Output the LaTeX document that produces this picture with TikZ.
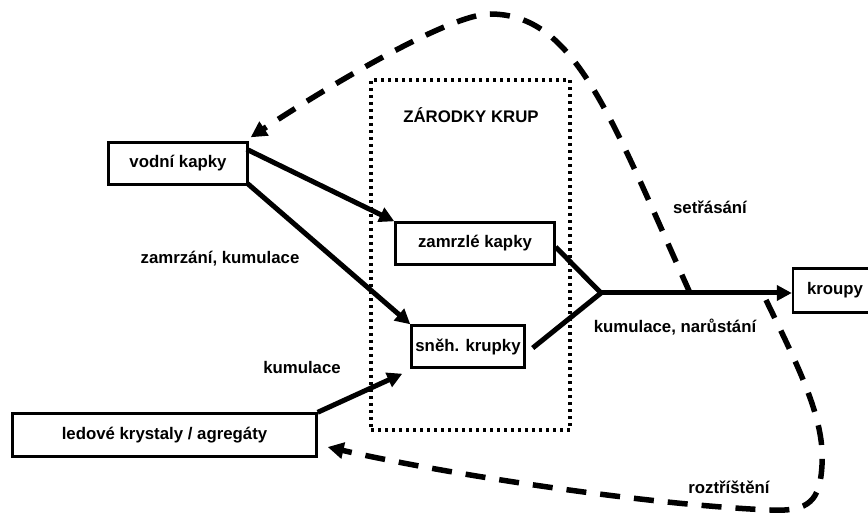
\documentclass[tikz,border=0pt]{standalone}
\usepackage{fontspec}
\setmainfont{Liberation Sans}
\usetikzlibrary{arrows.meta,calc}
\begin{document}
\begin{tikzpicture}[x=1pt,y=-1pt,
  txt/.style={font=\fontsize{16.8}{19}\selectfont\bfseries},
  box/.style={txt,draw,line width=2.4pt,inner sep=0pt},
  lbl/.style={txt,inner sep=0pt},
  arr/.style={line width=5pt,-{Triangle[length=15pt,width=15pt]}},
  seg/.style={line width=5pt},
  dcurve/.style={line width=5.5pt,dash pattern=on 20pt off 14pt,-{Triangle[length=16pt,width=16pt]}},
  dotbox/.style={draw,line width=3.5pt,dash pattern=on 3pt off 4pt,inner sep=0pt},
  ]
\useasboundingbox (0,0) rectangle (868,513);
\clip (0,0) rectangle (868,513);

% region of hail embryos
\node[dotbox,minimum width=199pt,minimum height=350pt] (zbox) at (470.5,255) {};
\node[lbl] (zlabel) at (471,115) {ZÁRODKY KRUP};

% boxes
\node[box,minimum width=139pt,minimum height=42pt] (vodni) at (178,163.5) {vodní kapky};
\node[box,minimum width=159pt,minimum height=42pt] (zamrzle) at (475,243.5) {zamrzlé kapky};
\node[box,minimum width=113pt,minimum height=42pt] (sneh) at (468,346.5) {sněh. krupky};
\node[box,minimum width=304pt,minimum height=43pt] (ledove) at (164.5,435) {ledové krystaly / agregáty};
\node[box,minimum width=84pt,minimum height=44pt] (kroupy) at (835,290.5) {kroupy};

% arrows
\coordinate (J) at (601,293);
\draw[arr] ($(vodni.north east)+(-2,8)$) -- (zamrzle.north west);
\draw[arr] ($(vodni.south east)+(-1,-2)$) -- (sneh.north west);
\draw[arr] (ledove.north east) -- ($(sneh.south west)+(-8,5)$);
\draw[seg] ($(zamrzle.east)+(0,3.5)$) -- (J);
\draw[seg] ($(sneh.east)+(7,1.5)$) -- (J);
\draw[arr] (J) -- (kroupy.west |- J);

% dashed recirculation curves
\coordinate (s1) at (690,293);
\draw[dcurve] (s1) .. controls (610,115) and (575,14) .. (490,14)
  .. controls (450,14) and (330,85) .. ($(vodni.north east)+(2,-4)$);
\coordinate (s2) at (766,300);
\draw[dcurve] (s2) .. controls (800,370) and (825,420) .. (822,465)
  .. controls (820,500) and (810,512) .. (770,510)
  .. controls (650,505) and (450,475) .. ($(ledove.east)+(10,12)$);

% labels
\node[lbl] (l1) at (220,259) {zamrzání, kumulace};
\node[lbl] (l2) at (302,367) {kumulace};
\node[lbl] (l3) at (710,207) {setřásání};
\node[lbl] (l4) at (675,327) {kumulace, narůstání};
\node[lbl] (l5) at (729,487) {roztříštění};
\end{tikzpicture}
\end{document}
